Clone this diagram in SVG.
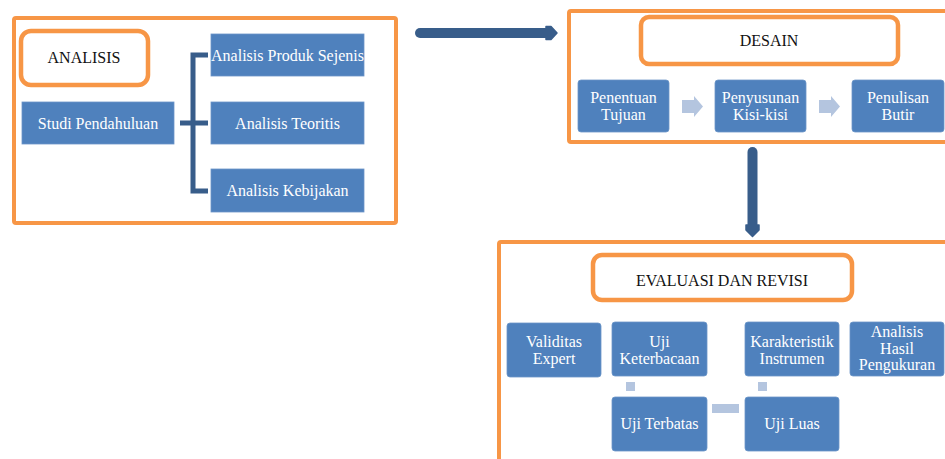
<svg xmlns="http://www.w3.org/2000/svg" width="945" height="459" viewBox="0 0 945 459">
<style>
.frame{fill:#fff;stroke:#F79646;stroke-width:4}
.title{fill:#fff;stroke:#F79646;stroke-width:4.5}
.box{fill:#4F81BD;stroke:#6C95C8;stroke-width:0.8}
.tw{font-family:"Liberation Serif","Times New Roman",serif;font-size:16px;fill:#fff;text-anchor:middle}
.tb{font-family:"Liberation Serif","Times New Roman",serif;font-size:16px;fill:#111;text-anchor:middle}
.dk{fill:none;stroke:#385D8A;stroke-width:5}
.lt{fill:#B4C5DF}
</style>
<rect width="945" height="459" fill="#fff"/>

<g id="analisis">
<rect class="frame" x="14" y="18" width="382" height="205" rx="2"/>
<rect class="title" x="21" y="31" width="127" height="54" rx="10"/>
<text class="tb" x="84" y="63">ANALISIS</text>
</g>
<g id="studi"><rect class="box" x="22" y="102" width="152" height="42"/><text class="tw" x="98" y="128.5">Studi Pendahuluan</text></g>
<g id="produk"><rect class="box" x="211" y="34" width="153" height="42"/><text class="tw" x="287.5" y="60.5">Analisis Produk Sejenis</text></g>
<g id="teoritis"><rect class="box" x="211" y="102" width="153" height="42"/><text class="tw" x="287.5" y="128.5">Analisis Teoritis</text></g>
<g id="kebijakan"><rect class="box" x="211" y="169" width="153" height="43"/><text class="tw" x="287.5" y="195.5">Analisis Kebijakan</text></g>

<g id="desain">
<rect class="frame" x="569" y="11" width="390" height="131" rx="2"/>
<rect class="title" x="641" y="17" width="257" height="47" rx="8"/>
<text class="tb" x="769" y="46">DESAIN</text>
</g>
<g id="penentuan"><rect class="box" x="578" y="80" width="91" height="52" rx="3"/><text class="tw" x="623.5" y="103">Penentuan</text><text class="tw" x="623.5" y="120">Tujuan</text></g>
<g id="penyusunan"><rect class="box" x="715" y="80" width="91" height="52" rx="3"/><text class="tw" x="760.5" y="103">Penyusunan</text><text class="tw" x="760.5" y="120">Kisi-kisi</text></g>
<g id="penulisan"><rect class="box" x="852" y="80" width="92" height="52" rx="3"/><text class="tw" x="898" y="103">Penulisan</text><text class="tw" x="898" y="120">Butir</text></g>

<g id="evaluasi">
<rect class="frame" x="499" y="242" width="460" height="230" rx="2"/>
<rect class="title" x="593" y="255" width="259" height="45" rx="9"/>
<text class="tb" x="722" y="285.5">EVALUASI DAN REVISI</text>
</g>
<g id="validitas"><rect class="box" x="507" y="323" width="94" height="54" rx="3"/><text class="tw" x="554" y="347">Validitas</text><text class="tw" x="554" y="364">Expert</text></g>
<g id="keterbacaan"><rect class="box" x="612" y="322" width="95" height="54" rx="3"/><text class="tw" x="659.5" y="347">Uji</text><text class="tw" x="659.5" y="364">Keterbacaan</text></g>
<g id="karakteristik"><rect class="box" x="745" y="322" width="94" height="54" rx="3"/><text class="tw" x="792" y="347">Karakteristik</text><text class="tw" x="792" y="364">Instrumen</text></g>
<g id="hasil"><rect class="box" x="850" y="322" width="94" height="54" rx="3"/><text class="tw" x="897" y="337">Analisis</text><text class="tw" x="897" y="353.5">Hasil</text><text class="tw" x="897" y="370">Pengukuran</text></g>
<g id="terbatas"><rect class="box" x="612" y="397" width="95" height="54" rx="3"/><text class="tw" x="659.5" y="429">Uji Terbatas</text></g>
<g id="luas"><rect class="box" x="745" y="397" width="94" height="54" rx="3"/><text class="tw" x="792" y="429">Uji Luas</text></g>

<g id="connectors">
<path class="dk" d="M180 123H208M208 55H193V191H208M193 123H208"/>
<line x1="420" y1="33" x2="548" y2="33" stroke="#385D8A" stroke-width="10" stroke-linecap="round"/>
<polygon points="546,26.5 551,26.5 557,33 551,39.5 546,39.5" fill="#385D8A" stroke="#385D8A" stroke-width="1.5" stroke-linejoin="round"/>
<line x1="752.5" y1="152" x2="752.5" y2="228" stroke="#385D8A" stroke-width="10" stroke-linecap="round"/>
<polygon points="746,225 759,225 759,230 752.5,236.5 746,230" fill="#385D8A" stroke="#385D8A" stroke-width="1.5" stroke-linejoin="round"/>
<polygon class="lt" points="682,100 694,100 694,96 703,106.5 694,117 694,113 682,113"/>
<polygon class="lt" points="819,100 831,100 831,96 840,106.5 831,117 831,113 819,113"/>
<rect class="lt" x="626" y="382" width="9" height="9"/>
<rect class="lt" x="758" y="382" width="9" height="9"/>
<rect class="lt" x="712" y="404" width="27" height="9"/>
</g>
</svg>
